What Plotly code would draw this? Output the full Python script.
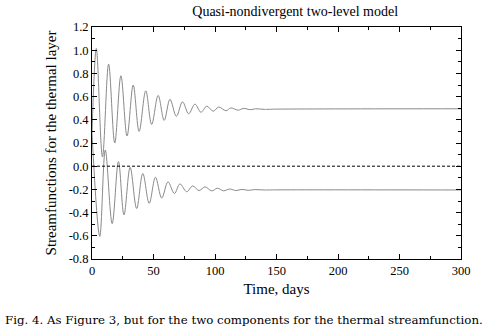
import plotly.graph_objects as go

# Extrema (time in days, value)
upper_t = [0, 3.5, 8.5, 13.5, 18.5, 23.5, 28.5, 33.5, 38.3, 43.7, 48.5, 53.8, 58.7, 63.4,
           68.6, 73.6, 78.6, 83.7, 88.6, 93.3, 98.6, 103, 109, 112.8, 119, 123, 129, 133,
           140, 150, 300]
upper_v = [0.28, 1.015, 0.08, 0.88, 0.20, 0.78, 0.26, 0.70, 0.30, 0.65, 0.36, 0.61, 0.395,
           0.577, 0.43, 0.555, 0.452, 0.535, 0.465, 0.517, 0.474, 0.51, 0.478, 0.502, 0.483,
           0.498, 0.487, 0.495, 0.49, 0.492, 0.495]

lower_t = [0, 6.3, 10.8, 16.4, 21.5, 26, 31, 36.3, 41.3, 46.5, 51.6, 56.7, 61.8, 67, 71.5,
           77, 81.8, 87.1, 91.9, 97.3, 101.9, 107, 112, 117, 122, 127, 132, 140, 150, 300]
lower_v = [0.28, -0.605, 0.14, -0.495, 0.04, -0.42, -0.01, -0.365, -0.063, -0.32, -0.095,
           -0.275, -0.135, -0.235, -0.153, -0.22, -0.17, -0.21, -0.178, -0.213, -0.19,
           -0.212, -0.197, -0.21, -0.2, -0.208, -0.202, -0.205, -0.204, -0.205]

zero_t = [0, 300]
zero_v = [0, 0]

x_ticks = [0, 50, 100, 150, 200, 250, 300]
y_ticks = [-0.8, -0.6, -0.4, -0.2, 0.0, 0.2, 0.4, 0.6, 0.8, 1.0, 1.2]
y_labels = ["-0.8", "-0.6", "-0.4", "-0.2", "0.0", "0.2", "0.4", "0.6", "0.8", "1.0", "1.2"]

serif = "Liberation Serif"

fig = go.Figure()
fig.add_trace(go.Scatter(x=upper_t, y=upper_v, mode="lines",
                         line=dict(color="#8a8a8a", width=1, shape="spline", smoothing=1.0)))
fig.add_trace(go.Scatter(x=lower_t, y=lower_v, mode="lines",
                         line=dict(color="#8a8a8a", width=1, shape="spline", smoothing=1.0)))
fig.add_trace(go.Scatter(x=zero_t, y=zero_v, mode="lines",
                         line=dict(color="black", width=1, dash="3px,2px")))

axis_common = dict(showline=True, linecolor="black", linewidth=1, mirror="allticks",
                   ticks="inside", ticklen=5, tickcolor="black", showgrid=False,
                   zeroline=False, automargin=False,
                   tickfont=dict(family=serif, size=12.5, color="black"))

fig.update_xaxes(range=[0, 300], tickvals=x_ticks,
                 minor=dict(ticks="inside", ticklen=3, dtick=25, tick0=0, tickcolor="black"),
                 title=dict(text="Time, days", font=dict(family=serif, size=15, color="black"),
                            standoff=6),
                 **axis_common)
fig.update_yaxes(range=[-0.8, 1.2], tickvals=y_ticks, ticktext=y_labels,
                 minor=dict(ticks="inside", ticklen=3, dtick=0.1, tick0=0, tickcolor="black"),
                 title=dict(text="Streamfunctions for the thermal layer",
                            font=dict(family=serif, size=15, color="black"), standoff=8),
                 **axis_common)

fig.update_layout(
    width=502, height=332,
    margin=dict(l=92, r=41, t=27, b=73, autoexpand=False),
    paper_bgcolor="white", plot_bgcolor="white",
    showlegend=False,
    font=dict(family=serif, color="black"),
    title=dict(text="Quasi-nondivergent two-level model", x=0.5507, xanchor="center",
               xref="paper", y=0.968, yanchor="middle",
               font=dict(family=serif, size=14, color="black")),
    annotations=[dict(text="Fig. 4. As Figure 3, but for the two components for the thermal streamfunction.",
                      xref="paper", yref="paper", x=-0.24, y=-0.265, xanchor="left",
                      yanchor="middle", showarrow=False,
                      font=dict(family="DejaVu Serif", size=11.8, color="black"))],
)

fig.write_html("out.html", config={"displayModeBar": False},
               post_script="document.body.style.margin='0';")
